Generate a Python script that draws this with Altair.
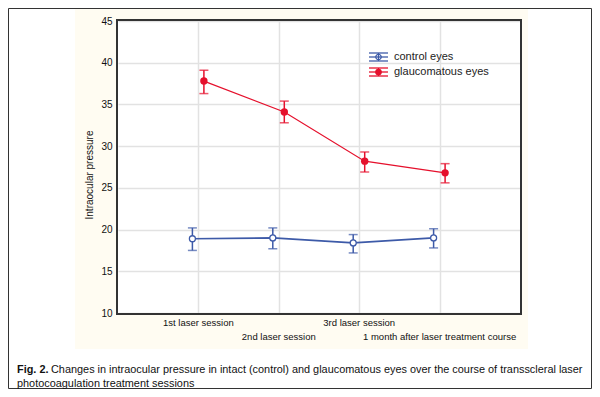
import altair as alt
import pandas as pd

# ---- data ----
sessions = ["1st laser session", "2nd laser session", "3rd laser session",
            "1 month after laser treatment course"]
series_names = ["control eyes", "glaucomatous eyes"]
control_mean = [18.9, 19.0, 18.4, 19.0]
control_lo = [17.5, 17.7, 17.2, 17.8]
control_hi = [20.2, 20.2, 19.4, 20.1]
glauc_mean = [37.8, 34.1, 28.2, 26.8]
glauc_lo = [36.3, 32.8, 26.9, 25.6]
glauc_hi = [39.1, 35.4, 29.3, 27.9]
y_ticks = [10, 15, 20, 25, 30, 35, 40, 45]
y_title = "Intraocular pressure"
caption_bold = "Fig. 2."
caption_line1 = "Changes in intraocular pressure in intact (control) and glaucomatous eyes over the course of transscleral laser"
caption_line2 = "photocoagulation treatment sessions"

BLUE = "#3d5aa8"
RED = "#e5102c"
FRAME = "#333333"
FONT = "Liberation Sans"
W, H = 402, 292

ctrl = pd.DataFrame({"session": sessions, "mean": control_mean, "lo": control_lo, "hi": control_hi})
glc = pd.DataFrame({"session": sessions, "mean": glauc_mean, "lo": glauc_lo, "hi": glauc_hi})
sess_df = pd.DataFrame({"session": sessions})

sess_list = "[" + ",".join("'" + s + "'" for s in sessions) + "]"

x_scale = alt.Scale(type="point", padding=1)
y_scale = alt.Scale(domain=[10, 45], nice=False, zero=False)
x_axis = alt.Axis(title=None, labels=False, ticks=False, domain=False,
                  grid=True, gridColor="#e2e2e2", gridWidth=1.5)
y_axis = alt.Axis(values=y_ticks, title=None,
                  labelFont=FONT, labelFontSize=10, labelColor="#111", labelPadding=6,
                  ticks=False, domain=False, grid=True, gridColor="#e2e2e2", gridWidth=1.5)
x_enc = alt.X("session:N", sort=sessions, scale=x_scale, axis=x_axis)


def series_layers(df, color, off, filled, size, lw):
    base = alt.Chart(df)
    line = base.mark_line(color=color, strokeWidth=lw, xOffset=off).encode(
        x=x_enc, y=alt.Y("mean:Q", scale=y_scale, axis=y_axis))
    rule = base.mark_rule(color=color, strokeWidth=1.5, xOffset=off).encode(
        x=x_enc, y=alt.Y("lo:Q", scale=y_scale), y2="hi:Q")
    cap_lo = base.mark_tick(color=color, size=9, thickness=1.5, xOffset=off).encode(
        x=x_enc, y=alt.Y("lo:Q", scale=y_scale))
    cap_hi = base.mark_tick(color=color, size=9, thickness=1.5, xOffset=off).encode(
        x=x_enc, y=alt.Y("hi:Q", scale=y_scale))
    if filled:
        pt = base.mark_point(shape="circle", filled=True, color=color, size=size, opacity=1, xOffset=off)
    else:
        pt = base.mark_point(shape="circle", filled=False, color=color, size=size, strokeWidth=1.3,
                             fill="white", opacity=1, xOffset=off)
    pt = pt.encode(x=x_enc, y=alt.Y("mean:Q", scale=y_scale))
    return [line, rule, cap_lo, cap_hi, pt]


layers = []
layers += series_layers(ctrl, BLUE, -6, False, 36, 1.6)
layers += series_layers(glc, RED, 5.5, True, 55, 1.2)

# ---- staggered category labels under the plot ----
layers += [
    alt.Chart(sess_df).transform_filter(f"indexof({sess_list}, datum.session) % 2 == 0")
    .mark_text(font=FONT, fontSize=9.5, color="#111", baseline="middle", align="center")
    .encode(x=x_enc, y=alt.value(H + 10), text="session:N"),
    alt.Chart(sess_df).transform_filter(f"indexof({sess_list}, datum.session) % 2 == 1")
    .mark_text(font=FONT, fontSize=9.5, color="#111", baseline="middle", align="center")
    .encode(x=x_enc, y=alt.value(H + 24), text="session:N"),
]

deco_src = alt.Chart(pd.DataFrame({"a": [0]}))

def hrule(x1, x2, y, color=FRAME, w=1.5):
    return deco_src.mark_rule(color=color, strokeWidth=w, opacity=1).encode(
        x=alt.value(x1), x2=alt.value(x2), y=alt.value(y))

def vrule(x, y1, y2, color=FRAME, w=1.5):
    return deco_src.mark_rule(color=color, strokeWidth=w, opacity=1).encode(
        x=alt.value(x), y=alt.value(y1), y2=alt.value(y2))

def frect(x1, x2, y1, y2, color):
    return deco_src.mark_rect(color=color, opacity=1).encode(
        x=alt.value(x1), x2=alt.value(x2), y=alt.value(y1), y2=alt.value(y2))

# ---- page decoration: white margins around the cream panel, outer border, caption ----
layers += [
    frect(-111, -43, -14, 369, "white"),
    frect(410, 475, -14, 369, "white"),
    frect(-111, 475, -14, -12, "white"),
    frect(-111, 475, 328, 369, "white"),
    hrule(-109.5, 473.5, -12.5, color="#333", w=1),
    hrule(-109.5, 473.5, 367.5, color="#333", w=1),
    vrule(-109.5, -12.5, 367.5, color="#333", w=1),
    vrule(473.5, -12.5, 367.5, color="#333", w=1),
    deco_src.mark_text(font=FONT, fontSize=10.9, fontWeight="bold", align="left",
                       baseline="alphabetic", color="#111").encode(
        x=alt.value(-101), y=alt.value(352), text=alt.value(caption_bold)),
    deco_src.mark_text(font=FONT, fontSize=10.9, align="left", baseline="alphabetic",
                       color="#111").encode(
        x=alt.value(-67), y=alt.value(352), text=alt.value(caption_line1)),
    deco_src.mark_text(font=FONT, fontSize=10.9, align="left", baseline="alphabetic",
                       color="#111").encode(
        x=alt.value(-101), y=alt.value(366), text=alt.value(caption_line2)),
    # y axis title (rotated text)
    deco_src.mark_text(font=FONT, fontSize=10, angle=270, align="center", baseline="middle",
                       color="#111").encode(
        x=alt.value(-28), y=alt.value(154), text=alt.value(y_title)),
]

# ---- legend ----
def legend_entry(name, color, cy, filled):
    out = []
    for dy in (-4, 0, 4):
        out.append(hrule(251, 270, cy + dy, color=color, w=1.3))
    out.append(vrule(260.5, cy - 4, cy + 4, color=color, w=1.3))
    if filled:
        p = deco_src.mark_point(shape="circle", filled=True, color=color, size=45, opacity=1)
    else:
        p = deco_src.mark_point(shape="circle", filled=False, color=color, size=30,
                                strokeWidth=1.2, opacity=1)
    out.append(p.encode(x=alt.value(260.5), y=alt.value(cy)))
    out.append(deco_src.mark_text(font=FONT, fontSize=11, align="left", baseline="middle",
                                  color="#222").encode(
        x=alt.value(276), y=alt.value(cy), text=alt.value(name)))
    return out

layers += legend_entry(series_names[0], BLUE, 36, False)
layers += legend_entry(series_names[1], RED, 51, True)

# ---- plot frame as filled dark strips just outside the plot edges, drawn last ----
layers += [
    frect(-2, W + 2, -2, 0, FRAME),
    frect(-2, W + 2, H, H + 2, FRAME),
    frect(-2, 0, -2, H + 2, FRAME),
    frect(W, W + 2, -2, H + 2, FRAME),
]

chart = alt.layer(*layers).properties(
    width=W, height=H,
    padding={"left": 110, "top": 13, "right": 72, "bottom": 76},
    autosize=alt.AutoSizeParams(type="none"),
    background="#fffcf2",
).configure_view(strokeWidth=0, fill="white")

chart.save("out.html", embed_options={"renderer": "svg", "actions": False})
